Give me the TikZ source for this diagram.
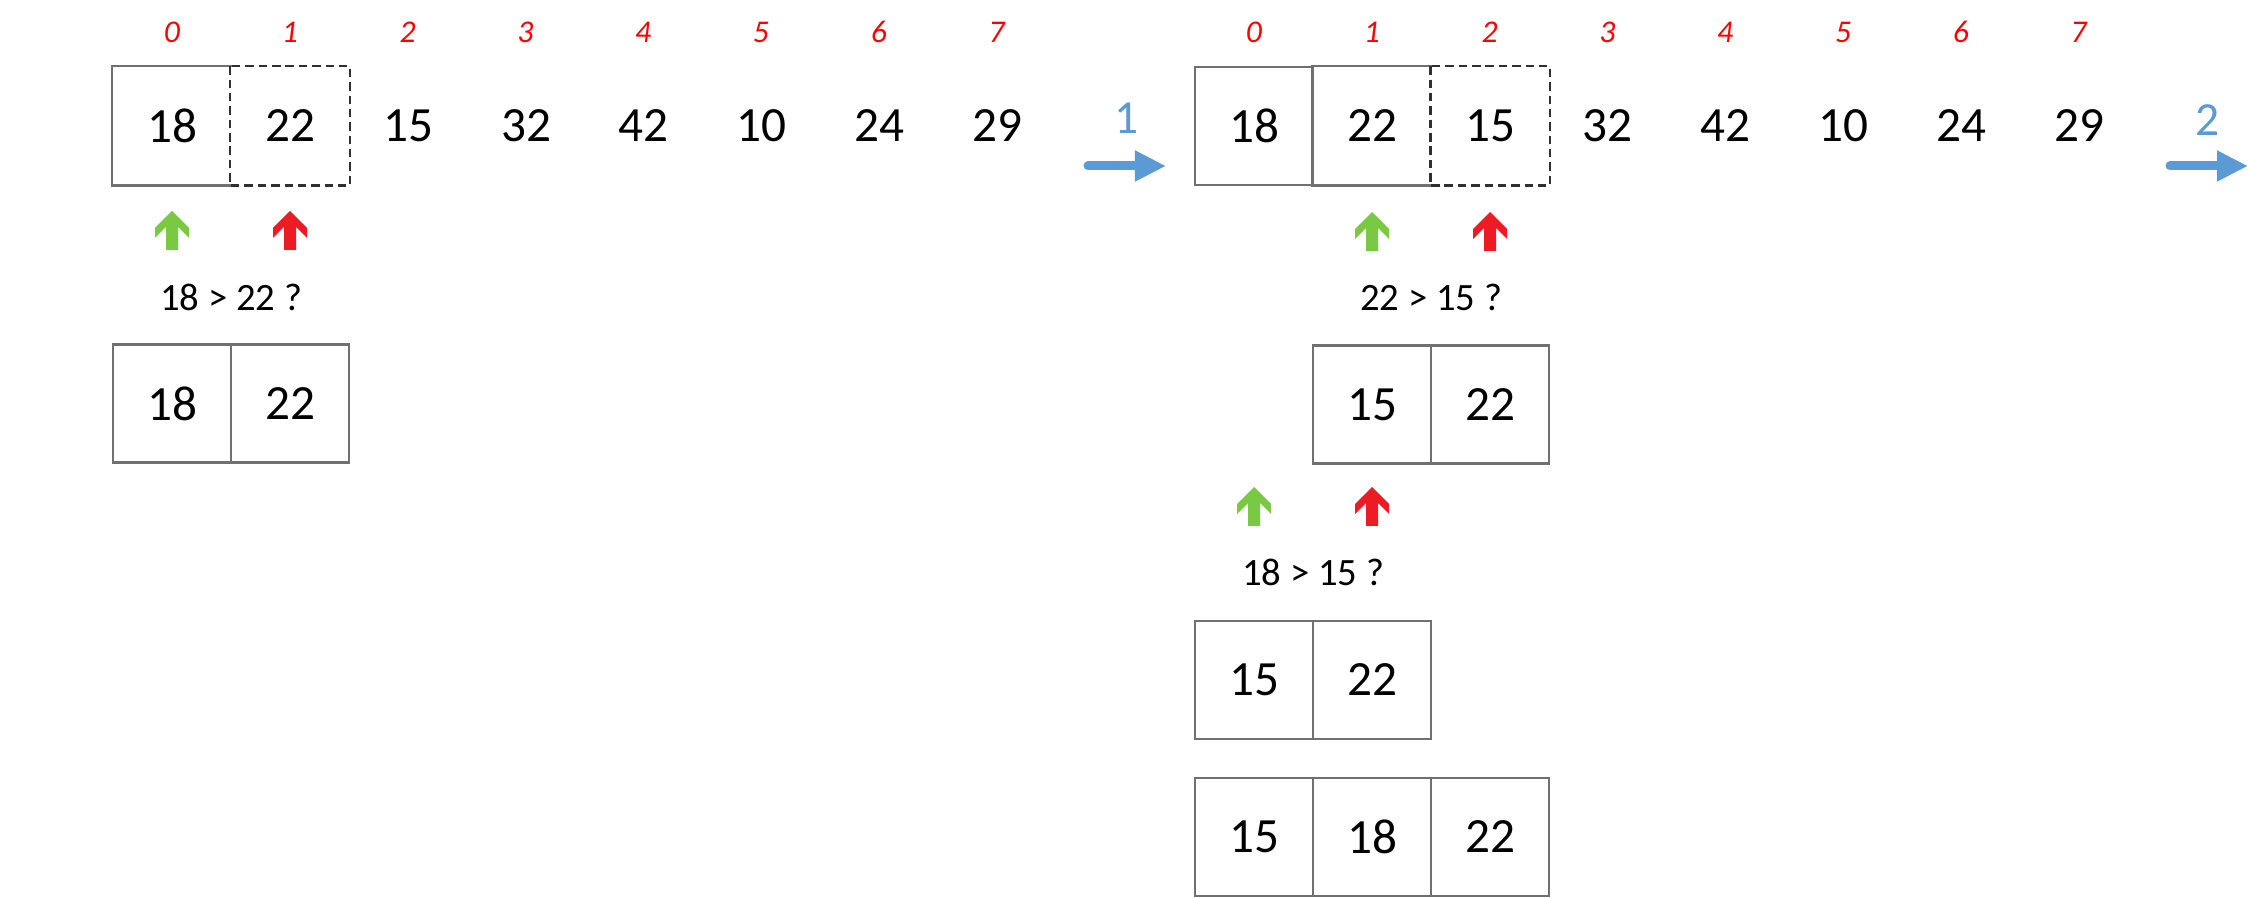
\documentclass[tikz,border=0pt]{standalone}
\usepackage{fontspec}
\setmainfont{Carlito}
\usetikzlibrary{arrows.meta}
\definecolor{agreen}{HTML}{7AC943}
\definecolor{ared}{HTML}{ED1C24}
\definecolor{ablue}{HTML}{5B9BD5}
\definecolor{idxred}{HTML}{FF0000}
\definecolor{boxgray}{HTML}{707070}
\definecolor{dashgray}{HTML}{303030}
\begin{document}
\begin{tikzpicture}[x=0.01cm,y=-0.01cm,
  numfont/.style={font=\fontsize{14}{16}\selectfont},
  cell/.style={numfont,draw=boxgray,line width=0.7pt,minimum width=1.18cm,minimum height=1.18cm,inner sep=0},
  cellplain/.style={numfont,minimum width=1.18cm,minimum height=1.18cm,inner sep=0},
  solidline/.style={draw=boxgray,line width=0.7pt},
  dashbox/.style={draw=dashgray,line width=0.7pt,dash pattern=on 2.4pt off 1.4pt},
  num/.style={numfont,inner sep=0},
  idx/.style={font=\fontsize{9}{11}\selectfont\itshape,text=idxred,inner sep=0},
  cmp/.style={font=\fontsize{11}{13}\selectfont,inner sep=0},
  steplabel/.style={font=\fontsize{13.5}{15}\selectfont,text=ablue,inner sep=0},
  steparrow/.style={draw=ablue,line width=0.09cm,line cap=round,-{Triangle[length=0.31cm,width=0.29cm]}},
  pics/uparr/.style={code={
    \path[pic actions] (0,0) -- (-17,17) -- (-17,27) -- (-6,16) -- (-6,39) -- (6,39) -- (6,16) -- (17,27) -- (17,17) -- cycle;
  }}
]
\useasboundingbox (0,0) rectangle (2248,898);

% ---------- left panel ----------
\foreach \i in {0,...,7} \node[idx] (lidx\i) at ({172+117.8*\i},32) {\i};
\node[cellplain] (L0) at (172,126) {18};
\draw[solidline] (L0.north east) -- (L0.north west) -- (L0.south west) -- (L0.south east);
\node[cellplain] (L1) at (290,126) {22};
\draw[dashbox] (L1.north west) rectangle (L1.south east);
\node[num] (L2) at (408,126) {15};
\node[num] (L3) at (526,126) {32};
\node[num] (L4) at (643,126) {42};
\node[num] (L5) at (761,126) {10};
\node[num] (L6) at (879,126) {24};
\node[num] (L7) at (997,126) {29};

\path pic[fill=agreen] at (172,211) {uparr};
\path pic[fill=ared] at (290,211) {uparr};
\node[cmp] (lcmp) at (231,297.5) {18 > 22 ?};
\node[cell] (LA0) at (172,403.5) {18};
\node[cell] (LA1) at (290,403.5) {22};

% step arrow 1
\node[steplabel] (lab1) at (1127,118) {1};
\coordinate (s1) at (1088,166);
\coordinate (e1) at (1166,166);
\draw[steparrow] (s1) -- (e1);

% ---------- right panel ----------
\foreach \i in {0,...,7} \node[idx] (ridx\i) at ({1254+117.8*\i},32) {\i};
\node[cell] (R0) at (1254,126) {18};
\node[cellplain] (R1) at (1372,126) {22};
\draw[solidline] (R1.north east) -- (R1.north west) -- (R1.south west) -- (R1.south east);
\node[cellplain] (R2) at (1490,126) {15};
\draw[dashbox] (R2.north west) rectangle (R2.south east);
\node[num] (R3) at (1607,126) {32};
\node[num] (R4) at (1725,126) {42};
\node[num] (R5) at (1843,126) {10};
\node[num] (R6) at (1961,126) {24};
\node[num] (R7) at (2079,126) {29};

\path pic[fill=agreen] at (1372,212) {uparr};
\path pic[fill=ared] at (1490,212) {uparr};
\node[cmp] (rcmp1) at (1431,297.5) {22 > 15 ?};
\node[cell] (RA1) at (1372,404.5) {15};
\node[cell] (RA2) at (1490,404.5) {22};

\path pic[fill=agreen] at (1254,487) {uparr};
\path pic[fill=ared] at (1372,487) {uparr};
\node[cmp] (rcmp2) at (1313,572.5) {18 > 15 ?};
\node[cell] (RB0) at (1254,680) {15};
\node[cell] (RB1) at (1372,680) {22};

\node[cell] (RC0) at (1254,837) {15};
\node[cell] (RC1) at (1372,837) {18};
\node[cell] (RC2) at (1490,837) {22};

% step arrow 2
\node[steplabel] (lab2) at (2208,120) {2};
\coordinate (s2) at (2170,166);
\coordinate (e2) at (2248,166);
\draw[steparrow] (s2) -- (e2);
\end{tikzpicture}
\end{document}
